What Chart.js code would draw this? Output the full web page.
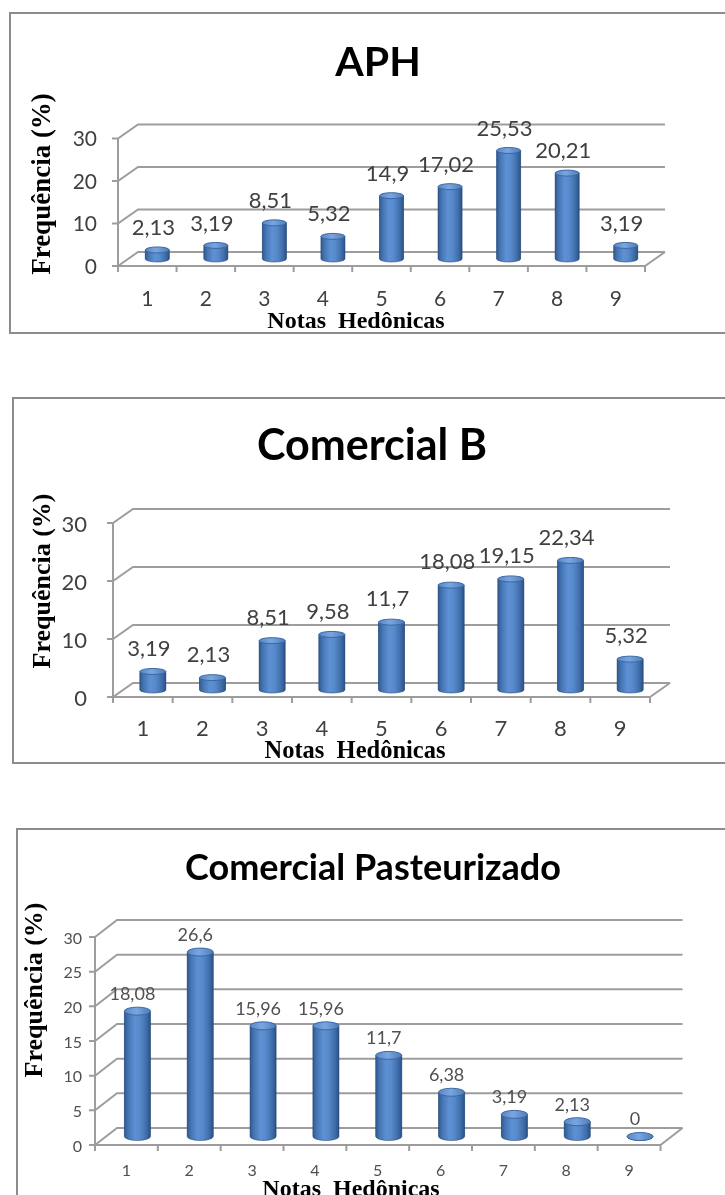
<!DOCTYPE html>
<html lang="pt-BR">
<head>
<meta charset="utf-8">
<title>Frequência das notas hedônicas</title>
<script src="https://cdn.jsdelivr.net/npm/chart.js@4.4.1/dist/chart.umd.min.js"></script>
<style>
  html, body { margin: 0; padding: 0; background: #fff; overflow: hidden; }
  body { width: 725px; height: 1195px; position: relative; }
  .quadro { position: absolute; border: 2px solid #8c8c8c; box-sizing: border-box; }
  canvas { position: absolute; left: 0; }
</style>
</head>
<body>
<div class="quadro" style="left:9px; top:12px; width:720px; height:322px;"></div>
<div class="quadro" style="left:12px; top:397px; width:720px; height:367px;"></div>
<div class="quadro" style="left:16px; top:828px; width:720px; height:400px;"></div>
<canvas id="g1" width="760" height="340" style="top:0px"></canvas>
<canvas id="g2" width="760" height="440" style="top:340px"></canvas>
<canvas id="g3" width="760" height="415" style="top:780px"></canvas>
<script>
// Notas hedônicas (categorias) e frequências (%) de cada amostra
const notas = ['1', '2', '3', '4', '5', '6', '7', '8', '9'];
const freqAPH = [2.13, 3.19, 8.51, 5.32, 14.9, 17.02, 25.53, 20.21, 3.19];
const freqComercialB = [3.19, 2.13, 8.51, 9.58, 11.7, 18.08, 19.15, 22.34, 5.32];
const freqPasteurizado = [18.08, 26.6, 15.96, 15.96, 11.7, 6.38, 3.19, 2.13, 0];
const titulos = ['APH', 'Comercial B', 'Comercial Pasteurizado'];
const eixoYMax = 30;
const passosY = [10, 10, 5];
const tituloY = 'Frequência (%)';
const tituloX = 'Notas  Hedônicas';

const decimal = v => String(v).replace('.', ',');

// Paredes, piso e eixos em perspectiva, desenhados a partir das escalas
const moldura3d = {
  id: 'moldura3d',
  beforeDatasetsDraw(chart, _args, o) {
    const { ctx, chartArea: a, scales: { x, y } } = chart;
    const hx = o.dx / 2, hy = o.dy / 2;
    const y0 = y.getPixelForValue(0);
    ctx.save();
    ctx.strokeStyle = o.cor;
    ctx.lineWidth = o.espessura;
    y.ticks.forEach(t => {
      const py = y.getPixelForValue(t.value);
      ctx.beginPath();
      ctx.moveTo(a.left - hx - o.marca, py - hy);
      ctx.lineTo(a.left - hx, py - hy);
      ctx.lineTo(a.left + hx, py + hy);
      ctx.lineTo(a.right + hx, py + hy);
      ctx.stroke();
    });
    ctx.beginPath();
    ctx.moveTo(a.left - hx, y.getPixelForValue(y.max) - hy);
    ctx.lineTo(a.left - hx, y0 - hy + o.marca);
    ctx.stroke();
    ctx.beginPath();
    ctx.moveTo(a.left - hx, y0 - hy);
    ctx.lineTo(a.right - hx, y0 - hy);
    ctx.lineTo(a.right + hx, y0 + hy);
    ctx.stroke();
    const n = x.getLabels().length;
    const passo = a.width / n;
    ctx.beginPath();
    for (let i = 1; i <= n; i++) {
      const px = x.getPixelForValue(i - 1) + passo / 2 - hx;
      ctx.moveTo(px, y0 - hy);
      ctx.lineTo(px, y0 - hy + o.marca);
    }
    ctx.stroke();
    ctx.restore();
  }
};

// Barras com aparência de cilindro, sobre a geometria das barras do Chart.js
const cilindros = {
  id: 'cilindros',
  afterDatasetsDraw(chart, _args, o) {
    const { ctx } = chart;
    const meta = chart.getDatasetMeta(0);
    meta.data.forEach(bar => {
      const { x, y, base, width } = bar.getProps(['x', 'y', 'base', 'width'], true);
      const rx = width / 2, ry = o.ry;
      const l = x - rx, r = x + rx;
      const g = ctx.createLinearGradient(l, 0, r, 0);
      g.addColorStop(0, '#2f5b93');
      g.addColorStop(0.15, '#4675b3');
      g.addColorStop(0.4, '#5d91d4');
      g.addColorStop(0.6, '#578acb');
      g.addColorStop(0.85, '#3f6da9');
      g.addColorStop(1, '#2a5286');
      ctx.save();
      ctx.fillStyle = g;
      ctx.strokeStyle = 'rgba(35,65,110,0.55)';
      ctx.lineWidth = 1;
      ctx.beginPath();
      ctx.moveTo(l, y);
      ctx.lineTo(l, base);
      ctx.ellipse(x, base, rx, ry, 0, Math.PI, 0, true);
      ctx.lineTo(r, y);
      ctx.closePath();
      ctx.fill();
      ctx.stroke();
      const gt = ctx.createLinearGradient(l, 0, r, 0);
      gt.addColorStop(0, '#5a88c6');
      gt.addColorStop(0.45, '#7aa6e0');
      gt.addColorStop(1, '#4f7dba');
      ctx.fillStyle = gt;
      ctx.strokeStyle = '#3a67a2';
      ctx.beginPath();
      ctx.ellipse(x, y, rx, ry, 0, 0, Math.PI * 2);
      ctx.fill();
      ctx.stroke();
      ctx.restore();
    });
  }
};

// Valor de cada barra acima do topo do cilindro
const rotulos = {
  id: 'rotulos',
  afterDatasetsDraw(chart, _args, o) {
    const { ctx } = chart;
    const valores = chart.data.datasets[0].data;
    const meta = chart.getDatasetMeta(0);
    ctx.save();
    ctx.font = o.tamanho + 'px Lato';
    ctx.fillStyle = o.cor;
    ctx.textAlign = 'center';
    ctx.textBaseline = 'middle';
    meta.data.forEach((bar, i) => {
      ctx.fillText(decimal(valores[i]), bar.x + o.dx, bar.y + o.dy);
    });
    ctx.restore();
  }
};

// Títulos dos eixos
const titulosEixos = {
  id: 'titulosEixos',
  afterDraw(chart, _args, o) {
    const { ctx } = chart;
    ctx.save();
    ctx.fillStyle = '#000';
    ctx.textAlign = 'center';
    ctx.textBaseline = 'middle';
    ctx.font = 'bold ' + o.yTamanho + 'px "Liberation Serif"';
    ctx.translate(o.yX, o.yY);
    ctx.rotate(-Math.PI / 2);
    ctx.fillText(tituloY, 0, 0);
    ctx.setTransform(1, 0, 0, 1, 0, 0);
    ctx.font = 'bold ' + o.xTamanho + 'px "Liberation Serif"';
    ctx.fillText(tituloX, o.xX, o.xY);
    ctx.restore();
  }
};

function grafico(id, titulo, valores, passo, c) {
  const lh = c.tituloTam * 1.2;
  const tituloTopo = c.tituloCentro - lh / 2 + 1;
  return new Chart(document.getElementById(id), {
    type: 'bar',
    data: {
      labels: notas,
      datasets: [{
        data: valores,
        backgroundColor: '#4a7ebb',
        barPercentage: c.barra,
        categoryPercentage: 1
      }]
    },
    options: {
      responsive: false,
      animation: false,
      devicePixelRatio: 1,
      layout: { padding: { left: c.padE, right: c.padD, top: 0, bottom: c.padB } },
      plugins: {
        legend: { display: false },
        tooltip: { enabled: false },
        title: {
          display: true,
          text: titulo,
          color: '#000',
          font: { family: 'Lato', size: c.tituloTam, weight: 'bold' },
          padding: { top: tituloTopo, bottom: c.areaTopo - tituloTopo - lh }
        },
        moldura3d: { dx: c.dx, dy: c.dy, cor: '#9d9d9d', espessura: 2, marca: 6 },
        cilindros: { ry: c.ry },
        rotulos: { tamanho: c.rotTam, cor: c.rotCor, dx: c.rotDx, dy: c.rotDy },
        titulosEixos: c.eixos
      },
      scales: {
        x: {
          grid: { display: false, drawTicks: false },
          border: { display: false },
          ticks: {
            color: c.tickCor,
            font: { family: 'Lato', size: c.xTam },
            padding: c.xPad,
            labelOffset: c.xOff,
            maxRotation: 0
          },
          afterFit: s => { s.height = c.xAlt; }
        },
        y: {
          min: 0,
          max: eixoYMax,
          grid: { display: false, drawTicks: false },
          border: { display: false },
          ticks: {
            stepSize: passo,
            color: c.tickCor,
            font: { family: 'Lato', size: c.yTam },
            padding: c.yPad,
            labelOffset: c.yOff
          },
          afterFit: s => { s.width = c.yLarg; }
        },
        // faixa vazia à direita da área do gráfico
        margemDireita: {
          type: 'linear',
          position: 'right',
          grid: { display: false, drawTicks: false },
          border: { display: false },
          ticks: { display: false },
          afterFit: s => { s.width = c.dirLarg; }
        }
      }
    },
    plugins: [moldura3d, cilindros, rotulos, titulosEixos]
  });
}

grafico('g1', titulos[0], freqAPH, passosY[0], {
  padE: 28, yLarg: 100, padD: 32, dirLarg: 73, xAlt: 60, padB: 21, areaTopo: 131.5,
  tituloTam: 41, tituloCentro: 62,
  dx: 20, dy: -14, ry: 3, barra: 0.41,
  tickCor: '#404040', xTam: 21, xPad: 28, xOff: -10, yTam: 21, yPad: 31, yOff: 8,
  rotTam: 22, rotCor: '#404040', rotDx: -4, rotDy: -22,
  eixos: { yX: 43, yY: 184, yTamanho: 27, xX: 356, xY: 322, xTamanho: 24 }
});

grafico('g2', titulos[1], freqComercialB, passosY[1], {
  padE: 23, yLarg: 100, padD: 39, dirLarg: 61, xAlt: 60, padB: 30, areaTopo: 176,
  tituloTam: 43, tituloCentro: 105,
  dx: 20, dy: -14, ry: 3, barra: 0.436,
  tickCor: '#404040', xTam: 22, xPad: 26, xOff: -10, yTam: 22, yPad: 36, yOff: 9,
  rotTam: 22, rotCor: '#404040', rotDx: -4, rotDy: -23,
  eixos: { yX: 43, yY: 241, yTamanho: 26, xX: 355, xY: 412, xTamanho: 24.5 }
});

grafico('g3', titulos[2], freqPasteurizado, passosY[2], {
  padE: 16, yLarg: 90, padD: 30, dirLarg: 58.5, xAlt: 50, padB: 8.5, areaTopo: 148.5,
  tituloTam: 36, tituloCentro: 87,
  dx: 22, dy: -17, ry: 4, barra: 0.414,
  tickCor: '#505050', xTam: 16, xPad: 25, xOff: -11, yTam: 16, yPad: 24, yOff: 10,
  rotTam: 18, rotCor: '#505050', rotDx: -5, rotDy: -17,
  eixos: { yX: 35, yY: 210, yTamanho: 26, xX: 351, xY: 410, xTamanho: 24 }
});
</script>
</body>
</html>
